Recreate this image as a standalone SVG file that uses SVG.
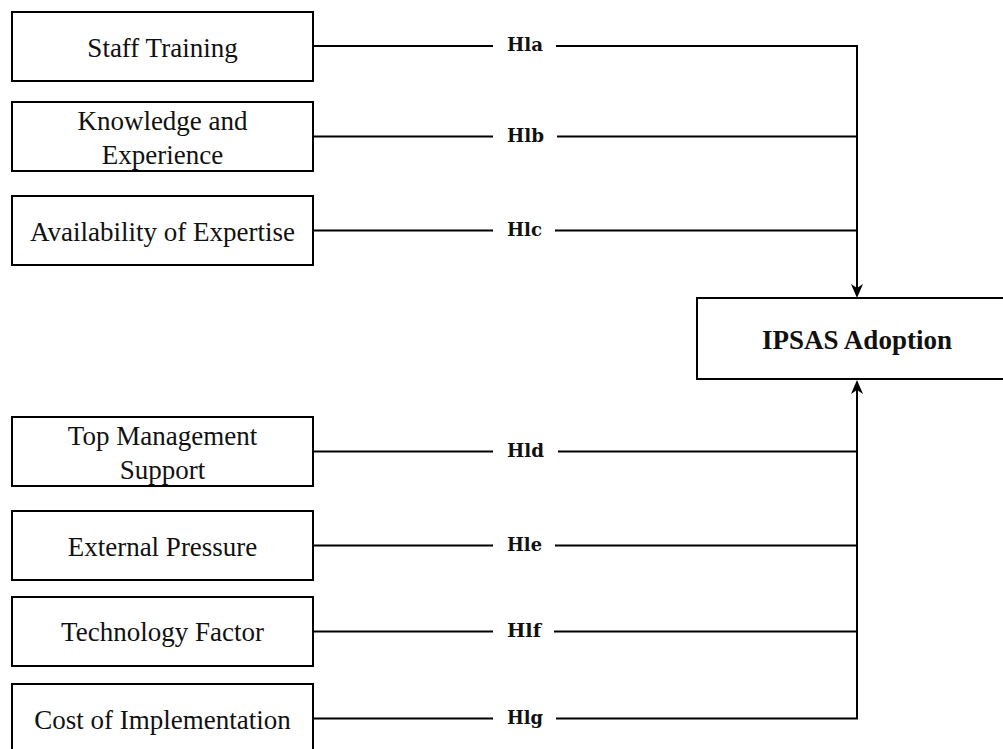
<svg xmlns="http://www.w3.org/2000/svg" width="1003" height="749" viewBox="0 0 1003 749">
<style>
.box{fill:#fff;stroke:#000;stroke-width:2}
.t{font-family:"Liberation Serif","Times New Roman",serif;font-size:27px;fill:#111;text-anchor:middle}
.tb{font-weight:bold}
.lbl{font-family:"DejaVu Serif","Liberation Serif",serif;font-weight:bold;font-size:18px;fill:#111}
.ln{fill:none;stroke:#000;stroke-width:2}
</style>
<defs>
<marker id="arr" markerUnits="userSpaceOnUse" viewBox="0 0 14 12" refX="8" refY="6" markerWidth="14" markerHeight="12" orient="auto">
<path d="M0,0 L14,6 L0,12 L4,6 Z" fill="#000"/>
</marker>
</defs>
<rect width="1003" height="749" fill="#fff"/>
<g id="connectors">
<path class="ln" d="M313,46 H493 M556,46 H857 V292" marker-end="url(#arr)"/>
<path class="ln" d="M313,136.5 H493 M557,136.5 H857"/>
<path class="ln" d="M313,230.5 H493 M555,230.5 H857"/>
<path class="ln" d="M313,451.5 H493 M558,451.5 H857"/>
<path class="ln" d="M313,545.5 H493 M555,545.5 H857"/>
<path class="ln" d="M313,631.5 H493 M554,631.5 H857"/>
<path class="ln" d="M313,718.5 H493 M556,718.5 H857 V386" marker-end="url(#arr)"/>
<text class="lbl" x="507" y="51" textLength="36" lengthAdjust="spacingAndGlyphs">Hla</text>
<text class="lbl" x="507" y="141.5" textLength="37" lengthAdjust="spacingAndGlyphs">Hlb</text>
<text class="lbl" x="507" y="235.5" textLength="35" lengthAdjust="spacingAndGlyphs">Hlc</text>
<text class="lbl" x="507" y="456.5" textLength="37" lengthAdjust="spacingAndGlyphs">Hld</text>
<text class="lbl" x="507" y="550.5" textLength="35" lengthAdjust="spacingAndGlyphs">Hle</text>
<text class="lbl" x="507" y="636.5" textLength="34" lengthAdjust="spacingAndGlyphs">Hlf</text>
<text class="lbl" x="507" y="723.5" textLength="36" lengthAdjust="spacingAndGlyphs">Hlg</text>
</g>
<g id="staff-training">
<rect class="box" x="12" y="12" width="301" height="69"/>
<text class="t" x="162.5" y="56.5">Staff Training</text>
</g>
<g id="knowledge-experience">
<rect class="box" x="12" y="102" width="301" height="69"/>
<text class="t" x="162.5" y="129.5">Knowledge and</text>
<text class="t" x="162.5" y="163.5">Experience</text>
</g>
<g id="availability-expertise">
<rect class="box" x="12" y="196" width="301" height="69"/>
<text class="t" x="162.5" y="240.5">Availability of Expertise</text>
</g>
<g id="ipsas-adoption">
<rect class="box" x="697" y="298" width="320" height="81"/>
<text class="t tb" x="857" y="348.5">IPSAS Adoption</text>
</g>
<g id="top-management">
<rect class="box" x="12" y="417" width="301" height="69"/>
<text class="t" x="162.5" y="445">Top Management</text>
<text class="t" x="162.5" y="479">Support</text>
</g>
<g id="external-pressure">
<rect class="box" x="12" y="511" width="301" height="69"/>
<text class="t" x="162.5" y="555.5">External Pressure</text>
</g>
<g id="technology-factor">
<rect class="box" x="12" y="597" width="301" height="69"/>
<text class="t" x="162.5" y="641">Technology Factor</text>
</g>
<g id="cost-implementation">
<rect class="box" x="12" y="684" width="301" height="69"/>
<text class="t" x="162.5" y="729">Cost of Implementation</text>
</g>
</svg>
